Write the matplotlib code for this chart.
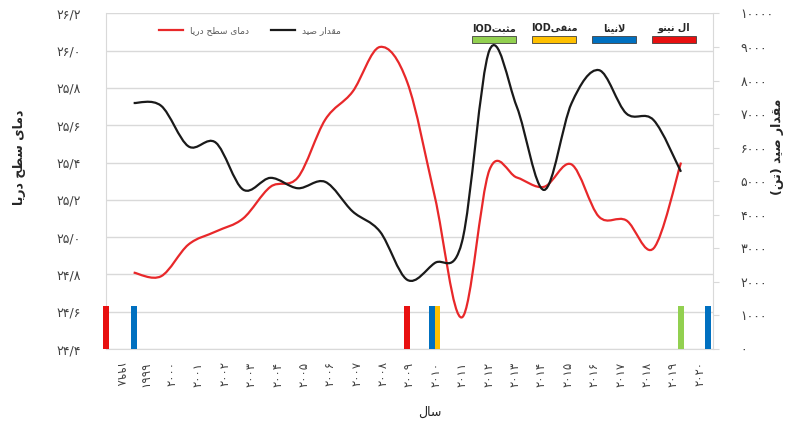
import numpy as np
import matplotlib
matplotlib.use("Agg")
import matplotlib.pyplot as plt
from matplotlib.path import Path
from matplotlib.patches import PathPatch, Rectangle
from matplotlib.lines import Line2D

# data
years = list(range(1998, 2021))
line_years = list(range(1999, 2020))
sst = [24.81, 24.79, 24.96, 25.03, 25.10, 25.27, 25.32, 25.63, 25.78, 26.02, 25.83,
       25.22, 24.57, 25.36, 25.32, 25.27, 25.39, 25.11, 25.09, 24.94, 25.40]
catch = [7330, 7250, 6040, 6150, 4750, 5100, 4790, 4980, 4100, 3500, 2060,
         2560, 3200, 8900, 7220, 4740, 7320, 8310, 7020, 6820, 5280]

event_names = ['IOD مثبت', 'IOD منفی', 'لانینا', 'ال نینو']
event_colors = ['#92D050', '#FFC000', '#0070C0', '#E81010']
event_years = [1998, 1999, 2009, 2010, 2010, 2019, 2020]
event_kind = ['ال نینو', 'لانینا', 'ال نینو', 'لانینا', 'IOD منفی', 'IOD مثبت', 'لانینا']
event_level = 24.63

sst_label = 'دمای سطح دریا'
catch_label = 'مقدار صید'

# --- minimal persian shaping (matplotlib has no bidi / shaping) ---
FORMS = {
    'ا': ('\uFE8D', '\uFE8E', None, None),
    'ب': ('\uFE8F', '\uFE90', '\uFE91', '\uFE92'),
    'ت': ('\uFE95', '\uFE96', '\uFE97', '\uFE98'),
    'ث': ('\uFE99', '\uFE9A', '\uFE9B', '\uFE9C'),
    'ح': ('\uFEA1', '\uFEA2', '\uFEA3', '\uFEA4'),
    'د': ('\uFEA9', '\uFEAA', None, None),
    'ر': ('\uFEAD', '\uFEAE', None, None),
    'س': ('\uFEB1', '\uFEB2', '\uFEB3', '\uFEB4'),
    'ص': ('\uFEB9', '\uFEBA', '\uFEBB', '\uFEBC'),
    'ط': ('\uFEC1', '\uFEC2', '\uFEC3', '\uFEC4'),
    'ف': ('\uFED1', '\uFED2', '\uFED3', '\uFED4'),
    'ق': ('\uFED5', '\uFED6', '\uFED7', '\uFED8'),
    'ل': ('\uFEDD', '\uFEDE', '\uFEDF', '\uFEE0'),
    'م': ('\uFEE1', '\uFEE2', '\uFEE3', '\uFEE4'),
    'ن': ('\uFEE5', '\uFEE6', '\uFEE7', '\uFEE8'),
    'و': ('\uFEED', '\uFEEE', None, None),
    'ی': ('\uFBFC', '\uFBFD', '\uFBFE', '\uFBFF'),
}


def fa(text):
    out = []
    i = 0
    n = len(text)
    while i < n:
        c = text[i]
        if c not in FORMS:
            out.append(c)
            i += 1
            continue
        prev = text[i - 1] if i > 0 else ''
        joins_prev = prev in FORMS and FORMS[prev][2] is not None
        if c == 'ل' and i + 1 < n and text[i + 1] == 'ا':
            out.append('\uFEFC' if joins_prev else '\uFEFB')
            i += 2
            continue
        nxt = text[i + 1] if i + 1 < n else ''
        joins_next = FORMS[c][2] is not None and nxt in FORMS
        iso, fin, ini, med = FORMS[c]
        if joins_prev and joins_next:
            out.append(med)
        elif joins_prev:
            out.append(fin)
        elif joins_next:
            out.append(ini)
        else:
            out.append(iso)
        i += 1
    s = ''.join(reversed(out))
    return s.translate(str.maketrans('()', ')('))


def fa_label(text):
    # latin part stays on the left, persian part shaped
    if text.startswith('IOD'):
        return 'IOD' + fa(text[3:].strip())
    return fa(text)


def fa_num(s):
    return s.translate(str.maketrans('0123456789.', '۰۱۲۳۴۵۶۷۸۹/'))


def smooth_path(x, y):
    # excel-like smoothed line (bezier through every point)
    x = np.asarray(x, float)
    y = np.asarray(y, float)
    n = len(x)
    verts = [(x[0], y[0])]
    codes = [Path.MOVETO]
    for i in range(n - 1):
        i0 = max(i - 1, 0)
        i3 = min(i + 2, n - 1)
        c1 = (x[i] + (x[i + 1] - x[i0]) / 6, y[i] + (y[i + 1] - y[i0]) / 6)
        c2 = (x[i + 1] - (x[i3] - x[i]) / 6, y[i + 1] - (y[i3] - y[i]) / 6)
        verts += [c1, c2, (x[i + 1], y[i + 1])]
        codes += [Path.CURVE4] * 3
    return Path(verts, codes)


W, H = 798, 425


def px(x, y):
    return (x / W, 1 - y / H)


plt.rcParams['font.family'] = ['DejaVu Sans']
fig = plt.figure(figsize=(W / 100, H / 100), dpi=100)
fig.patch.set_facecolor('white')

left, right, top, bottom = 106, 713, 13.4, 349
ax = fig.add_axes([left / W, 1 - bottom / H, (right - left) / W, (bottom - top) / H])
ax.set_xlim(1997.99, 2020.17)
ax.set_ylim(24.4, 26.2)
yt = np.round(np.arange(24.4, 26.21, 0.2), 1)
ax.set_yticks(yt)
ax.set_yticklabels([fa_num(f'{v:.1f}') for v in yt], fontsize=9, color='#404040')
ax.tick_params(axis='y', length=0, pad=18)
ax.set_xticks([])
ax.yaxis.grid(True, color='#d9d9d9', lw=1)
ax.set_axisbelow(True)
for s in ['top', 'right']:
    ax.spines[s].set_visible(False)
for s in ['left', 'bottom']:
    ax.spines[s].set_color('#d9d9d9')

# event bars (side by side when one year has two events)
bw = 0.21
for yr in sorted(set(event_years)):
    kinds = [k for y_, k in zip(event_years, event_kind) if y_ == yr]
    m = len(kinds)
    for j, k in enumerate(kinds):
        xc = yr + (j - (m - 1) / 2) * bw
        ax.bar(xc, event_level - 24.4, bottom=24.4, width=bw,
               color=event_colors[event_names.index(k)], clip_on=False, zorder=3)

ax.add_patch(PathPatch(smooth_path(line_years, sst), fill=False,
                       edgecolor='#E8282A', lw=1.6, zorder=4))

ax2 = ax.twinx()
ax2.set_ylim(0, 10000)
rt = list(range(0, 10001, 1000))
ax2.set_yticks(rt)
ax2.set_yticklabels([fa_num(str(v)) for v in rt], fontsize=9, color='#404040')
ax2.tick_params(axis='y', length=4, color='#d9d9d9', pad=16)
for s in ['top', 'left', 'bottom']:
    ax2.spines[s].set_visible(False)
ax2.spines['right'].set_color('#d9d9d9')
ax2.add_patch(PathPatch(smooth_path(line_years, catch), fill=False,
                        edgecolor='#1a1a1a', lw=1.6, zorder=4))

# category labels
axl = ax.twiny()
axl.set_xlim(-0.5, len(years) - 0.5)
axl.xaxis.set_ticks_position('bottom')
axl.set_xticks(range(len(years)))
axl.set_xticklabels([fa_num(str(y)) for y in years], fontsize=8.5, color='#404040')
axl.tick_params(axis='x', length=0, pad=9)
for i, lab in enumerate(axl.get_xticklabels()):
    lab.set_rotation(-90 if i == 0 else 90)
    lab.set_va('top')
for s in axl.spines.values():
    s.set_visible(False)

# axis titles
fig.text(*px(20, 157), fa('دمای سطح دریا'), rotation=90, ha='center', va='center',
         fontsize=9, fontweight='bold', color='#262626')
fig.text(*px(777, 147), fa('مقدار صید (تن)'), rotation=90, ha='center', va='center',
         fontsize=9, fontweight='bold', color='#262626')
fig.text(*px(430, 412), fa('سال'), ha='center', va='center', fontsize=9, color='#262626')

# line legend
handles = [Line2D([], [], color='#E8282A', lw=1.6), Line2D([], [], color='#1a1a1a', lw=1.6)]
ax.legend(handles, [fa(sst_label), fa(catch_label)], ncol=2, frameon=False,
          fontsize=6.5, labelcolor='#595959', handlelength=2.6, columnspacing=2.5,
          loc='center', bbox_to_anchor=px(250, 31), bbox_transform=fig.transFigure)

# event legend
for k, (name, col) in enumerate(zip(event_names, event_colors)):
    x0 = 472 + k * 60
    fig.patches.append(Rectangle(px(x0, 43), 44 / W, 7 / H, transform=fig.transFigure,
                                 facecolor=col, edgecolor='#404040', lw=0.6))
    fig.text(*px(x0 + 22, 28), fa_label(name), ha='center', va='center',
             fontsize=7, fontweight='bold', color='#262626')

fig.savefig('out.png', dpi=100)
